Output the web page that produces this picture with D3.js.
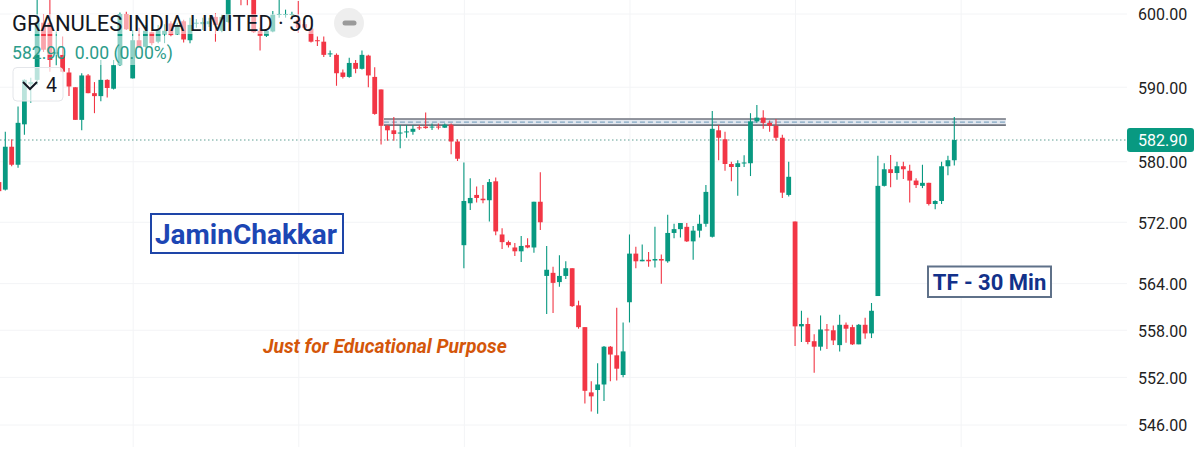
<!DOCTYPE html>
<html>
<head>
<meta charset="utf-8">
<script src="https://cdn.jsdelivr.net/npm/d3@7/dist/d3.min.js"></script>
<style>
html,body{margin:0;padding:0;background:#fff;overflow:hidden}
svg{display:block;font-family:Roboto,sans-serif}
</style>
</head>
<body>
<svg id="chart" width="1200" height="458"></svg>
<script>
const opens = [577.3,
576.3,582.0,579.6,585.0,590.4,591.0,598.8,598.8,594.5,594.4,
592.0,590.0,585.6,591.6,589.2,588.8,591.0,589.8,593.0,600.0,
591.2,596.4,595.5,597.5,596.2,597.2,598.7,597.2,599.0,596.4,
598.7,598.6,598.6,599.6,597.7,598.9,604.5,603.5,603.6,603.3,
597.7,597.0,597.6,599.9,599.9,599.9,599.2,598.6,598.0,596.4,
596.2,594.5,594.4,592.0,591.4,593.3,592.5,594.3,591.4,589.7,
584.8,584.2,583.8,583.95,584.0,584.6,584.7,584.6,584.7,584.55,
584.95,582.7,569.0,574.5,575.6,575.1,574.9,577.4,570.4,569.4,
568.7,568.2,569.0,568.7,574.7,565.0,565.4,564.2,565.0,566.0,
561.2,558.4,550.1,550.4,551.1,555.9,554.8,552.3,561.6,567.9,
566.9,567.1,567.0,567.2,566.9,570.6,571.1,571.4,569.5,570.9,
571.8,570.1,584.2,583.0,579.7,579.3,579.8,579.8,585.4,585.9,
585.2,584.8,583.2,575.6,572.1,558.5,558.8,556.6,555.9,558.1,
558.0,556.1,558.7,558.4,556.2,558.7,557.6,562.4,576.8,579.0,
578.5,579.4,578.8,577.5,576.8,577.2,574.4,574.8,579.4,580.2];
const highs = [577.6,
584.0,583.0,587.4,591.1,591.3,603.3,600.0,603.3,597.6,596.9,
592.6,590.0,591.9,591.8,590.7,593.7,591.1,593.7,600.2,600.3,
597.8,598.1,598.5,597.6,598.5,598.6,599.0,598.8,599.2,599.5,
599.3,599.5,599.5,600.1,599.9,603.8,604.9,604.0,604.2,604.0,
598.1,597.8,600.4,602.6,600.6,600.3,601.8,598.9,598.1,596.9,
596.9,595.0,594.6,592.4,594.0,593.7,595.0,594.4,592.7,589.7,
584.9,586.0,584.9,584.9,584.9,584.9,586.6,585.1,585.1,585.1,
585.1,583.0,579.9,577.8,576.7,576.9,577.7,577.9,571.2,569.6,
569.3,570.2,569.9,574.7,578.6,568.9,566.2,567.7,566.9,566.0,
561.8,558.4,551.5,553.8,556.0,556.0,560.9,559.0,570.4,568.8,
569.1,568.1,571.4,567.8,573.0,571.8,571.9,571.9,571.5,573.0,
576.9,586.8,584.9,584.0,580.0,580.2,580.85,586.5,587.6,586.9,
585.5,585.7,583.6,580.0,572.1,560.5,559.6,557.5,559.9,558.8,
558.6,560.0,559.0,558.7,558.8,559.6,561.5,580.8,579.8,580.9,
580.0,580.0,579.6,577.8,579.6,577.2,574.9,580.0,580.8,586.0];
const lows = [576.0,
576.2,579.4,579.2,583.6,587.9,590.3,594.8,592.1,593.0,592.0,
588.8,585.6,584.2,589.2,586.5,588.1,588.6,589.7,592.9,597.8,
591.2,595.4,595.4,595.7,596.0,596.0,596.9,597.1,596.1,596.0,
598.1,597.8,598.2,596.2,597.5,598.8,603.2,601.2,601.2,597.4,
595.0,596.85,597.5,599.5,599.5,599.6,597.4,597.8,596.1,595.6,
594.1,594.1,590.2,591.2,591.3,591.9,592.4,590.0,586.3,582.3,
582.8,582.8,581.8,583.2,583.6,584.25,584.4,584.25,584.3,584.5,
581.0,580.1,566.0,573.6,574.6,574.5,572.1,570.3,568.5,568.7,
567.6,566.8,568.6,568.0,571.0,560.1,560.2,563.6,564.6,561.0,
558.2,548.7,547.7,547.4,549.0,551.5,551.6,552.0,559.0,566.0,
566.9,566.2,566.1,564.0,566.7,569.9,570.0,569.4,567.1,570.0,
571.4,570.0,580.2,578.8,577.4,575.5,579.3,578.1,585.2,584.4,
584.0,582.8,575.2,575.4,556.0,556.5,556.2,552.6,555.4,555.6,
556.1,555.3,556.4,556.1,556.2,556.9,557.0,562.4,576.7,576.6,
577.6,577.7,574.6,576.5,576.5,574.2,573.7,574.4,578.2,579.5];
const closes = [576.1,
582.0,579.6,585.2,591.0,590.7,598.8,595.1,593.7,594.8,592.1,
590.1,585.6,591.6,589.2,588.8,591.0,589.9,593.0,600.0,597.9,
596.4,595.5,597.7,596.0,597.8,597.7,597.1,598.3,596.5,598.5,
598.8,598.9,599.0,598.5,599.6,603.0,603.6,602.7,602.8,597.5,
597.0,597.7,599.9,600.0,600.0,600.0,598.1,598.1,596.2,596.3,
594.4,594.6,591.9,591.4,593.3,592.5,594.4,591.6,586.4,584.8,
584.2,583.7,583.9,584.05,584.4,584.5,584.5,584.7,584.6,584.95,
582.7,580.4,574.8,575.2,575.2,574.9,577.3,570.8,569.4,569.0,
568.2,568.9,568.7,574.7,572.0,565.8,564.1,565.0,566.0,561.1,
558.4,550.3,549.6,551.1,555.9,554.9,553.1,555.3,567.9,566.9,
567.1,566.9,567.2,567.0,570.6,571.1,571.9,569.5,570.9,571.8,
576.0,584.4,583.2,579.7,579.3,579.8,579.9,585.4,585.9,585.2,
584.8,583.2,575.9,578.0,558.5,558.8,556.5,555.9,558.1,558.0,
556.7,558.7,558.2,556.2,558.7,557.6,560.5,576.8,579.0,578.5,
579.4,579.0,577.5,576.9,577.2,574.4,574.8,579.4,580.2,582.9];
const priceTicks = [600,590,580,572,564,558,552,546];
const sessionBreaks = [20,46,72,98,124,150];
const lastPrice = 582.9;
const levelTop = 585.72, levelMid = 585.3, levelBottom = 584.9;
const levelStart = 59.45, levelEnd = 157.1;
const barIndex = d3.range(-1, 150);
const UP = "#089981", DOWN = "#F23645";

const svg = d3.select("#chart");
const x = d3.scaleLinear().domain([0,149]).range([5.3,954.3]);
const y = d3.scaleLog().domain([546,600]).range([425,14]);
const plotRight = 1127, plotBottom = 447;

// grid
svg.append("g").selectAll("line").data(priceTicks).join("line")
  .attr("x1",0).attr("x2",plotRight)
  .attr("y1",d=>y(d)).attr("y2",d=>y(d))
  .attr("stroke","#f3f4f6").attr("stroke-width",1);
svg.append("g").selectAll("line").data(sessionBreaks).join("line")
  .attr("x1",d=>x(d)+0.5).attr("x2",d=>x(d)+0.5)
  .attr("y1",0).attr("y2",plotBottom)
  .attr("stroke","#f3f4f6").attr("stroke-width",1);

// horizontal zone
const zone = svg.append("g");
zone.append("rect")
  .attr("x",x(levelStart)).attr("width",x(levelEnd)-x(levelStart))
  .attr("y",y(levelTop)).attr("height",y(levelBottom)-y(levelTop))
  .attr("fill","#e2e7ef");
[levelTop,levelBottom].forEach(v=>zone.append("line")
  .attr("x1",x(levelStart)).attr("x2",x(levelEnd))
  .attr("y1",y(v)).attr("y2",y(v))
  .attr("stroke","#70757f").attr("stroke-width",1.6));
zone.append("line")
  .attr("x1",x(levelStart)).attr("x2",x(levelEnd))
  .attr("y1",y(levelMid)).attr("y2",y(levelMid))
  .attr("stroke","#6a97b8").attr("stroke-width",1).attr("stroke-dasharray","5 3");

// last price line
svg.append("line")
  .attr("x1",0).attr("x2",plotRight)
  .attr("y1",y(lastPrice)).attr("y2",y(lastPrice))
  .attr("stroke","#5f9f93").attr("stroke-width",1).attr("stroke-dasharray","1.5 2.5");

// candles
const colour = i => closes[i] >= opens[i] ? UP : DOWN;
const candles = svg.append("g");
candles.selectAll("line").data(barIndex).join("line")
  .attr("x1",d=>x(d)).attr("x2",d=>x(d))
  .attr("y1",(d,i)=>y(highs[i])).attr("y2",(d,i)=>y(lows[i]))
  .attr("stroke",(d,i)=>colour(i)).attr("stroke-width",1.1);
candles.selectAll("rect").data(barIndex).join("rect")
  .attr("x",d=>x(d)-2.4).attr("width",4.8)
  .attr("y",(d,i)=>Math.min(y(opens[i]),y(closes[i])))
  .attr("height",(d,i)=>Math.max(1,Math.abs(y(opens[i])-y(closes[i]))))
  .attr("fill",(d,i)=>colour(i));

// price axis
const axis = svg.append("g").attr("transform","translate(1138,0.8)")
  .call(d3.axisRight(y).tickValues(priceTicks).tickSize(0).tickPadding(0).tickFormat(d3.format(".2f")));
axis.select(".domain").remove();
axis.selectAll("text").attr("font-family","Roboto").attr("font-size",16).attr("fill","#222");

// last price label
svg.append("rect").attr("x",1127).attr("y",y(lastPrice)-12).attr("width",67).attr("height",24)
  .attr("rx",3).attr("fill",UP);
svg.append("text").attr("x",1138).attr("y",y(lastPrice)+6)
  .attr("font-size",16).attr("fill","#fff").text(d3.format(".2f")(lastPrice));

// legend
[[11,14,305,20],[11,36,59,19],[70,36,105,29]].forEach(r=>svg.append("rect")
  .attr("x",r[0]).attr("y",r[1]).attr("width",r[2]).attr("height",r[3])
  .attr("fill","#fff").attr("fill-opacity",0.55));
svg.append("text").attr("x",12).attr("y",31).attr("font-size",22).attr("fill","#131722")
  .text("GRANULES INDIA LIMITED · 30");
svg.append("text").attr("x",12).attr("y",59).attr("font-size",17.6).attr("fill","#2c9c8a")
  .attr("xml:space","preserve").style("white-space","pre").text("582.90  0.00 (0.00%)");
svg.append("rect").attr("x",13).attr("y",67.5).attr("width",50).attr("height",33.5).attr("rx",4)
  .attr("fill","#fff").attr("fill-opacity",0.72).attr("stroke","#e4e6ea");
svg.append("path").attr("d",d3.line()([[23,82],[30,89],[37,82]]))
  .attr("fill","none").attr("stroke","#131722").attr("stroke-width",2);
svg.append("text").attr("x",46).attr("y",91.5).attr("font-size",19.5).attr("fill","#131722").text("4");
svg.append("circle").attr("cx",349).attr("cy",23).attr("r",15).attr("fill","#eeeeee");
svg.append("rect").attr("x",342.5).attr("y",20.5).attr("width",14).attr("height",5).attr("rx",2.5).attr("fill","#9a9a9a");

// annotations
svg.append("rect").attr("x",151).attr("y",214).attr("width",192).attr("height",39)
  .attr("fill","#fff").attr("stroke","#1e45a8").attr("stroke-width",2);
svg.append("text").attr("x",246).attr("y",244).attr("text-anchor","middle")
  .attr("font-size",28).attr("font-weight",700).attr("fill","#1c46b4").text("JaminChakkar");
svg.append("rect").attr("x",928).attr("y",266.5).attr("width",123).attr("height",30.5)
  .attr("fill","#fff").attr("stroke","#5f7189").attr("stroke-width",2);
svg.append("text").attr("x",989.5).attr("y",290).attr("text-anchor","middle")
  .attr("font-size",22).attr("font-weight",700).attr("fill","#12318a").text("TF - 30 Min");
svg.append("text").attr("x",263).attr("y",353).attr("font-size",19.3)
  .attr("font-weight",700).attr("font-style","italic").attr("fill","#d4560a")
  .text("Just for Educational Purpose");
</script>
</body>
</html>
